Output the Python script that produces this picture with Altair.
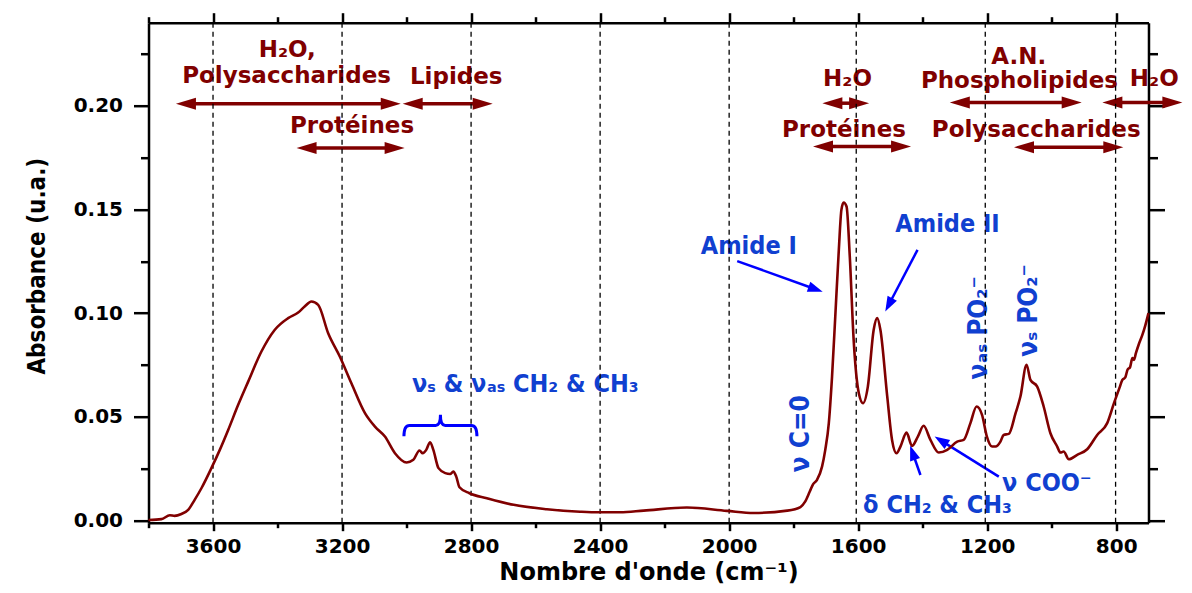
import math
import altair as alt
import pandas as pd

# ---------------- spectrum ----------------
wavenumber = [3800, 3760, 3734, 3719, 3698, 3677, 3657, 3636, 3605, 3579,
              3553, 3522, 3491, 3450, 3409, 3367, 3336, 3316, 3295, 3274,
              3243, 3207, 3171, 3129, 3098, 3067, 3036, 3000, 2979, 2960,
              2950, 2939, 2927, 2917, 2901, 2880, 2865, 2855, 2846, 2836,
              2805, 2751, 2668, 2565, 2462, 2405, 2338, 2265, 2131, 2007,
              1924, 1820, 1779, 1765, 1750, 1740, 1728, 1712, 1702, 1691,
              1681, 1671, 1660, 1652, 1645, 1636, 1626, 1614, 1598, 1585,
              1570, 1552, 1541, 1531, 1510, 1495, 1481, 1469, 1450, 1433,
              1415, 1397, 1376, 1350, 1324, 1293, 1273, 1252, 1233, 1216,
              1201, 1185, 1174, 1159, 1149, 1133, 1112, 1097, 1078, 1066,
              1045, 1025, 1004, 983, 973, 963, 947, 921, 890, 859,
              828, 807, 790, 781, 772, 765, 757, 750, 745, 739,
              730, 719, 710, 700]
absorbance = [0.0003, 0.0007, 0.0026, 0.0023, 0.0032, 0.0052, 0.0100, 0.0156, 0.0253, 0.0341,
              0.0437, 0.0558, 0.0670, 0.0815, 0.0919, 0.0976, 0.1003, 0.1032, 0.1056, 0.1040,
              0.0903, 0.0791, 0.0662, 0.0518, 0.0453, 0.0405, 0.0325, 0.0280, 0.0293, 0.0338,
              0.0325, 0.0341, 0.0378, 0.0341, 0.0253, 0.0229, 0.0225, 0.0236, 0.0212, 0.0161,
              0.0132, 0.0108, 0.0076, 0.0055, 0.0043, 0.0040, 0.0040, 0.0048, 0.0063, 0.0047,
              0.0037, 0.0048, 0.0065, 0.0090, 0.0140, 0.0175, 0.0195, 0.0260, 0.0341, 0.0470,
              0.0694, 0.0984, 0.1305, 0.1498, 0.1533, 0.1514, 0.1273, 0.0871, 0.0614, 0.0566,
              0.0646, 0.0919, 0.0976, 0.0919, 0.0600, 0.0389, 0.0325, 0.0357, 0.0424, 0.0360,
              0.0405, 0.0457, 0.0389, 0.0328, 0.0341, 0.0381, 0.0389, 0.0470, 0.0550, 0.0510,
              0.0405, 0.0357, 0.0357, 0.0381, 0.0413, 0.0418, 0.0518, 0.0598, 0.0751, 0.0678,
              0.0646, 0.0550, 0.0421, 0.0357, 0.0328, 0.0333, 0.0296, 0.0317, 0.0344, 0.0413,
              0.0470, 0.0566, 0.0640, 0.0678, 0.0690, 0.0727, 0.0740, 0.0783, 0.0775, 0.0807,
              0.0850, 0.0895, 0.0940, 0.1000]

x_tick_values = list(range(800, 3801, 200))
y_tick_values = [round(i * 0.025, 3) for i in range(10)]
dashed_lines = [3600, 3200, 2800, 2400, 2000, 1606, 1206, 802]

# dark red band labels and double arrows
band_labels = ["H₂O,", "Polysaccharides", "Lipides", "Protéines", "H₂O",
               "Protéines", "A.N.", "Phospholipides", "H₂O", "Polysaccharides"]
band_label_wn = [3370, 3372, 2846, 3169, 1633, 1644, 1102, 1100, 682, 1048]
band_label_abs = [0.2236, 0.2110, 0.2106, 0.1868, 0.2095, 0.1849, 0.2200, 0.2083, 0.2095, 0.1849]

band_from = [3715, 3012, 3341, 1711, 1740, 1316, 843, 1117]
band_to = [3018, 2733, 3006, 1566, 1436, 907, 595, 778]
band_abs = [0.2009, 0.2009, 0.1796, 0.2012, 0.1803, 0.2015, 0.2015, 0.1800]

# blue assignments
assign_labels = ["Amide I", "Amide II", "νₛ & νₐₛ CH₂ & CH₃", "ν COO⁻", "δ CH₂ & CH₃"]
assign_wn = [1939, 1323, 2632, 1015, 1354]
assign_abs = [0.1283, 0.1390, 0.0622, 0.0145, 0.0036]

vertical_labels = ["ν C=0", "νₐₛ PO₂⁻", "νₛ PO₂⁻"]
vertical_wn = [1776, 1225, 1071]
vertical_abs = [0.0419, 0.0929, 0.1013]

pointer_from_wn = [1975, 1416, 1164, 1407]
pointer_from_abs = [0.1251, 0.1305, 0.0212, 0.0220]
pointer_to_wn = [1710, 1516, 1363, 1439]
pointer_to_abs = [0.1103, 0.1008, 0.0405, 0.0362]

brace_wn = [2895]
brace_abs = [0.0459]

# ---------------- geometry helpers ----------------
X_MIN, X_MAX = 700, 3800
Y_MIN, Y_MAX = -0.001, 0.240
W, H = 1000, 500

DARK_RED = "#800000"
BLUE_TEXT = "#1040d0"
BLUE = "#0000ff"
TICK_FONT = "DejaVu Sans"
BLUE_FONT = "DejaVu Sans Condensed, DejaVu Sans"


def to_px(wn, a):
    return ((X_MAX - wn) / (X_MAX - X_MIN) * W, (Y_MAX - a) / (Y_MAX - Y_MIN) * H)


def to_data(px_, py_):
    return (X_MAX - px_ / W * (X_MAX - X_MIN), Y_MAX - py_ / H * (Y_MAX - Y_MIN))


x_scale = alt.Scale(domain=[X_MIN, X_MAX], reverse=True, nice=False, zero=False)
y_scale = alt.Scale(domain=[Y_MIN, Y_MAX], nice=False, zero=False)

spec = pd.DataFrame({"wn": wavenumber, "a": absorbance})

# red double arrows
RED_HEAD = 20.0
red_rows, red_heads = [], []
for f, t, a in zip(band_from, band_to, band_abs):
    fx, fy = to_px(f, a)
    tx, ty = to_px(t, a)
    s1, _ = to_data(fx + RED_HEAD * 0.6, fy)
    s2, _ = to_data(tx - RED_HEAD * 0.6, ty)
    red_rows.append({"x1": s1, "x2": s2, "y": a})
    red_heads.append({"x": f, "y": a, "angle": 180})
    red_heads.append({"x": t, "y": a, "angle": 0})
red_df = pd.DataFrame(red_rows)
red_head_df = pd.DataFrame(red_heads)

# blue single arrows
BLUE_HEAD = 15.0
blue_rows, blue_heads = [], []
for fw, fa, tw, ta in zip(pointer_from_wn, pointer_from_abs, pointer_to_wn, pointer_to_abs):
    sx, sy = to_px(fw, fa)
    tx, ty = to_px(tw, ta)
    L = math.hypot(tx - sx, ty - sy)
    ex = tx - (tx - sx) / L * BLUE_HEAD * 0.6
    ey = ty - (ty - sy) / L * BLUE_HEAD * 0.6
    ew, ea = to_data(ex, ey)
    ang = math.degrees(math.atan2(ty - sy, tx - sx)) % 360
    blue_rows.append({"x1": fw, "y1": fa, "x2": ew, "y2": ea})
    blue_heads.append({"x": tw, "y": ta, "angle": ang})
blue_df = pd.DataFrame(blue_rows)
blue_head_df = pd.DataFrame(blue_heads)

HEAD_RED = "M0,0L-2,-0.6L-2,0.6Z"
HEAD_BLUE = "M0,0L-2,-0.7L-2,0.7Z"
BRACE = "M-1,0.3Q-1,0 -0.85,0L-0.13,0Q0,0 0,-0.29Q0,0 0.13,0L0.85,0Q1,0 1,0.3"

x_major = "datum.value % 400 === 0"
y_major = "round(datum.value * 1000) % 50 === 0"

axis_common = dict(domainColor="black", domainWidth=2.5, tickColor="black", tickWidth=2.5,
                   grid=False, labelFont=TICK_FONT, labelFontWeight="bold", labelFontSize=20,
                   labelColor="black")

x_axis_bottom = alt.Axis(
    orient="bottom", values=x_tick_values, labelExpr=f"{x_major} ? datum.label : ''",
    format="d", tickSize={"condition": {"test": x_major, "value": 8}, "value": 5},
    labelPadding=6, labelFlush=False, labelOverlap=False,
    title="Nombre d'onde (cm⁻¹)", titleFont=TICK_FONT, titleFontSize=24, titleFontWeight="bold",
    titleColor="black", titleY=56.5, titleBaseline="alphabetic", **axis_common)

y_axis_left = alt.Axis(
    orient="left", values=y_tick_values,
    labelExpr=f"{y_major} ? format(datum.value, '.2f') : ''",
    tickSize={"condition": {"test": y_major, "value": 15}, "value": 8},
    labelPadding=11, labelOverlap=False, labelFlush=False,
    title="Absorbance (u.a.)", titleFont="Liberation Sans Narrow, DejaVu Sans Condensed",
    titleFontSize=24, titleFontWeight="bold", titleColor="black", titleAngle=270,
    titleX=-104, titleY=243, titleAlign="center", titleBaseline="alphabetic", **axis_common)

x_axis_top = alt.Axis(
    orient="top", values=x_tick_values, labels=False, title=None,
    tickSize={"condition": {"test": x_major, "value": 10}, "value": 6}, **axis_common)

y_axis_right = alt.Axis(
    orient="right", values=y_tick_values, labels=False, title=None,
    tickSize={"condition": {"test": y_major, "value": 16}, "value": 9}, **axis_common)

# ---------------- layers ----------------
frame = alt.Chart(spec).mark_point(opacity=0).encode(
    x=alt.X("wn:Q", scale=x_scale, axis=x_axis_top),
    y=alt.Y("a:Q", scale=y_scale, axis=y_axis_right),
)

band_text = alt.Chart(pd.DataFrame({"t": band_labels, "x": band_label_wn, "y": band_label_abs})).mark_text(
    font=TICK_FONT, fontSize=23, fontWeight="bold", color=DARK_RED, align="center",
    baseline="alphabetic", clip=False
).encode(x=alt.X("x:Q", scale=x_scale, axis=None), y=alt.Y("y:Q", scale=y_scale, axis=None), text="t:N")

red_shaft = alt.Chart(red_df).mark_rule(color=DARK_RED, strokeWidth=3.5, clip=False).encode(
    x=alt.X("x1:Q", scale=x_scale, axis=None), x2="x2:Q", y=alt.Y("y:Q", scale=y_scale, axis=None))

red_head = alt.Chart(red_head_df).mark_point(
    shape=HEAD_RED, filled=True, size=RED_HEAD ** 2, color=DARK_RED, opacity=1, strokeWidth=0, clip=False
).encode(x=alt.X("x:Q", scale=x_scale, axis=None), y=alt.Y("y:Q", scale=y_scale, axis=None),
         angle=alt.Angle("angle:Q", scale=None))

assign_text = alt.Chart(pd.DataFrame({"t": assign_labels, "x": assign_wn, "y": assign_abs})).mark_text(
    font=BLUE_FONT, fontSize=25, fontWeight="bold", color=BLUE_TEXT, align="center", baseline="alphabetic"
).encode(x=alt.X("x:Q", scale=x_scale, axis=None), y=alt.Y("y:Q", scale=y_scale, axis=None), text="t:N")

vertical_text = alt.Chart(pd.DataFrame({"t": vertical_labels, "x": vertical_wn, "y": vertical_abs})).mark_text(
    font=BLUE_FONT, fontSize=26, fontWeight="bold", color=BLUE_TEXT, align="center", baseline="middle",
    angle=270
).encode(x=alt.X("x:Q", scale=x_scale, axis=None), y=alt.Y("y:Q", scale=y_scale, axis=None), text="t:N")

blue_shaft = alt.Chart(blue_df).mark_rule(color=BLUE, strokeWidth=2.5).encode(
    x=alt.X("x1:Q", scale=x_scale, axis=None), x2="x2:Q",
    y=alt.Y("y1:Q", scale=y_scale, axis=None), y2="y2:Q")

blue_head = alt.Chart(blue_head_df).mark_point(
    shape=HEAD_BLUE, filled=True, size=BLUE_HEAD ** 2, color=BLUE, opacity=1, strokeWidth=0
).encode(x=alt.X("x:Q", scale=x_scale, axis=None), y=alt.Y("y:Q", scale=y_scale, axis=None),
         angle=alt.Angle("angle:Q", scale=None))

brace = alt.Chart(pd.DataFrame({"x": brace_wn, "y": brace_abs})).mark_point(
    shape=BRACE, filled=False, size=73 ** 2, color=BLUE, strokeWidth=3, opacity=1
).encode(x=alt.X("x:Q", scale=x_scale, axis=None), y=alt.Y("y:Q", scale=y_scale, axis=None))

dashes = alt.Chart(pd.DataFrame({"x": dashed_lines})).mark_rule(
    color="black", strokeWidth=1.3, strokeDash=[5, 4]
).encode(x=alt.X("x:Q", scale=x_scale, axis=None))

curve = alt.Chart(spec).mark_line(color=DARK_RED, strokeWidth=2.6, interpolate="monotone").encode(
    x=alt.X("wn:Q", scale=x_scale, axis=x_axis_bottom),
    y=alt.Y("a:Q", scale=y_scale, axis=y_axis_left),
)

chart = alt.layer(
    frame, band_text, red_shaft, red_head, assign_text, vertical_text, blue_shaft, blue_head, brace,
    dashes, curve
).resolve_axis(x="independent", y="independent").properties(
    width=W, height=H,
    autosize=alt.AutoSizeParams(type="none"),
    padding={"left": 140.5, "top": 14.7, "right": 35, "bottom": 62},
    background="white",
).configure_view(stroke=None)

chart.save("out.html", embed_options={"renderer": "svg", "actions": False})
